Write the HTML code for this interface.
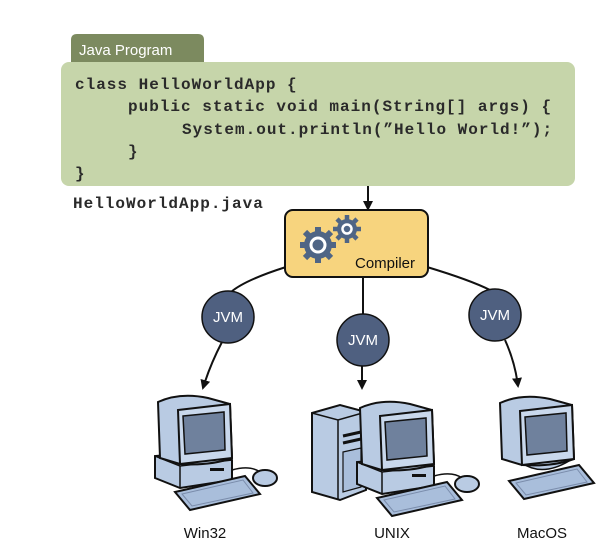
<!DOCTYPE html>
<html><head><meta charset="utf-8"><style>
html,body{margin:0;padding:0;background:#fff;}
svg{display:block}
.code{font-family:"Liberation Mono",monospace;font-weight:bold;font-size:16px;letter-spacing:1px;fill:#2a2a2a}
.sans{font-family:"Liberation Sans",sans-serif}
</style></head><body>
<svg width="602" height="552" viewBox="0 0 602 552" xmlns="http://www.w3.org/2000/svg">
<defs>
<marker id="ah" markerWidth="10" markerHeight="10" refX="8" refY="5" orient="auto" markerUnits="userSpaceOnUse">
<path d="M0,0 L10,5 L0,10 z" fill="#111"/></marker>
<g id="mon">
  <path d="M8,12 Q30,2 58,8 L80,14 L82,68 Q60,76 30,74 L10,68 Z" fill="#b9cbe3" stroke="#111" stroke-width="2"/>
  <path d="M28,20 L80,14 L82,68 L30,74 Z" fill="#c9d8ec" stroke="#111" stroke-width="2"/>
  <path d="M33,26 L74,22 L75,60 L35,64 Z" fill="#6f819d" stroke="#111" stroke-width="1.5"/>
</g>
<g id="kb">
  <path d="M25,102 L95,86 L110,104 L40,120 Z" fill="#a9bedb" stroke="#111" stroke-width="2"/>
  <path d="M32,104 L93,90 L103,103 L42,116 Z" fill="none" stroke="#7a8cab" stroke-width="1"/>
</g>
<g id="pc">
  <path d="M5,66 L5,88 L30,98 L82,90 L82,70 L55,62 Z" fill="#b9cbe3" stroke="#111" stroke-width="2"/>
  <path d="M5,66 L30,76 L82,70" fill="none" stroke="#111" stroke-width="1.5"/>
  <path d="M30,76 L30,98" stroke="#111" stroke-width="1.5"/>
  <rect x="60" y="78" width="14" height="3" fill="#111"/>
  <use href="#mon"/>
  <path d="M82,80 Q100,75 110,82" fill="none" stroke="#111" stroke-width="1.5"/>
  <ellipse cx="115" cy="88" rx="12" ry="8" fill="#b9cbe3" stroke="#111" stroke-width="2"/>
  <use href="#kb"/>
</g>
</defs>

<!-- tab -->
<path d="M71,62 L71,40 Q71,34 77,34 L198,34 Q204,34 204,40 L204,62 Z" fill="#7c8a5f"/>
<text x="79" y="55" class="sans" font-size="15" fill="#fff">Java Program</text>
<rect x="61" y="62" width="514" height="124" rx="8" fill="#c6d5aa"/>
<text class="code" x="75" y="89">class HelloWorldApp {</text>
<text class="code" x="128" y="111">public static void main(String[] args) {</text>
<text class="code" x="182" y="134">System.out.println(”Hello World!”);</text>
<text class="code" x="128" y="156">}</text>
<text class="code" x="75" y="178">}</text>
<text class="code" x="73" y="208">HelloWorldApp.java</text>

<line x1="368" y1="186" x2="368" y2="209" stroke="#111" stroke-width="2" marker-end="url(#ah)"/>

<!-- connectors -->
<path d="M286,267 Q245,280 231,292" fill="none" stroke="#111" stroke-width="2"/>
<line x1="363" y1="277" x2="363" y2="314" stroke="#111" stroke-width="2"/>
<path d="M427,267 Q470,280 490,290" fill="none" stroke="#111" stroke-width="2"/>
<path d="M222,342 Q210,365 203,388" fill="none" stroke="#111" stroke-width="2" marker-end="url(#ah)"/>
<line x1="362" y1="366" x2="362" y2="388" stroke="#111" stroke-width="2" marker-end="url(#ah)"/>
<path d="M505,340 Q515,362 518,386" fill="none" stroke="#111" stroke-width="2" marker-end="url(#ah)"/>

<!-- compiler -->
<rect x="285" y="210" width="143" height="67" rx="8" fill="#f7d47e" stroke="#111" stroke-width="2"/>
<g fill="#4f6585">
  <circle cx="318" cy="245" r="14"/>
  <g stroke="#4f6585" stroke-width="6">
    <line x1="318" y1="227" x2="318" y2="263"/><line x1="300" y1="245" x2="336" y2="245"/>
    <line x1="305" y1="232" x2="331" y2="258"/><line x1="331" y1="232" x2="305" y2="258"/>
  </g>
  <circle cx="347" cy="229" r="10"/>
  <g stroke="#4f6585" stroke-width="4.5">
    <line x1="347" y1="215" x2="347" y2="243"/><line x1="333" y1="229" x2="361" y2="229"/>
    <line x1="337" y1="219" x2="357" y2="239"/><line x1="357" y1="219" x2="337" y2="239"/>
  </g>
</g>
<circle cx="318" cy="245" r="7" fill="none" stroke="#fff" stroke-width="3"/>
<circle cx="347" cy="229" r="4.5" fill="none" stroke="#fff" stroke-width="2.5"/>
<text x="355" y="268" class="sans" font-size="15" fill="#111">Compiler</text>

<!-- JVMs -->
<g class="sans" font-size="15" fill="#fff" text-anchor="middle">
<circle cx="228" cy="317" r="26" fill="#4f6080" stroke="#111" stroke-width="1.5"/>
<text x="228" y="322">JVM</text>
<circle cx="363" cy="340" r="26" fill="#4f6080" stroke="#111" stroke-width="1.5"/>
<text x="363" y="345">JVM</text>
<circle cx="495" cy="315" r="26" fill="#4f6080" stroke="#111" stroke-width="1.5"/>
<text x="495" y="320">JVM</text>
</g>

<!-- computers -->
<use href="#pc" x="150" y="390"/>
<!-- UNIX tower -->
<path d="M312,413 L340,405 L366,412 L366,490 L340,500 L312,492 Z" fill="#b9cbe3" stroke="#111" stroke-width="2"/>
<path d="M312,413 L338,420 L366,412 M338,420 L338,500" fill="none" stroke="#111" stroke-width="1.5"/>
<path d="M343,436 L361,432 M343,443 L361,439" stroke="#111" stroke-width="3"/>
<path d="M343,452 L361,448 L361,487 L343,492 Z" fill="#a9bedb" stroke="#111" stroke-width="1.2"/>
<use href="#pc" x="352" y="396"/>
<!-- MacOS -->
<g transform="translate(497,393)">
  <path d="M25,70 Q45,84 72,68" fill="#b9cbe3" stroke="#111" stroke-width="1.5"/>
  <use href="#mon" x="-5" y="-2"/>
  <g transform="translate(-13,-14)"><use href="#kb"/></g>
</g>

<g class="sans" font-size="15" fill="#111" text-anchor="middle">
<text x="205" y="538">Win32</text>
<text x="392" y="538">UNIX</text>
<text x="542" y="538">MacOS</text>
</g>
</svg>
</body></html>
